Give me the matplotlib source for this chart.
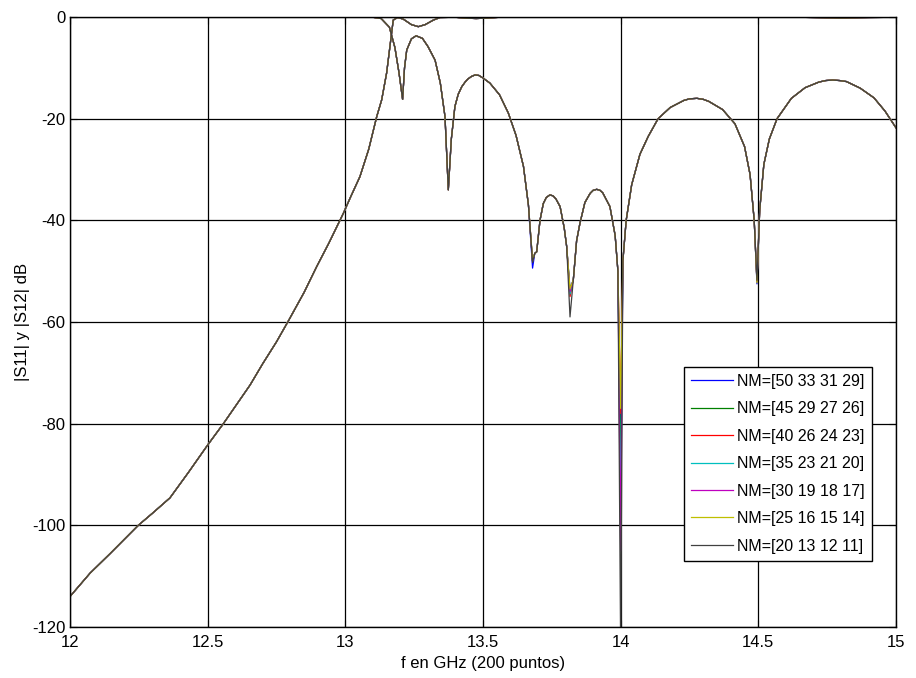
import numpy as np
import matplotlib
matplotlib.use('Agg')
import matplotlib.pyplot as plt

plt.rcParams['font.family'] = ['Liberation Sans Narrow', 'Liberation Sans', 'DejaVu Sans']
plt.rcParams['axes.unicode_minus'] = False

# frequency (GHz) and |S11| in dB (common shape of all runs)
f_s11 = [12.00, 12.50, 13.00, 13.10, 13.13, 13.16, 13.18, 13.195, 13.208, 13.215,
         13.223, 13.24, 13.257, 13.28, 13.30, 13.326, 13.345, 13.362, 13.374, 13.385,
         13.398, 13.41, 13.423, 13.435, 13.445, 13.458, 13.471, 13.485, 13.50, 13.525,
         13.56, 13.592, 13.62, 13.647, 13.665, 13.680, 13.688, 13.695, 13.707, 13.719,
         13.73, 13.743, 13.755, 13.765, 13.78, 13.795, 13.804, 13.816, 13.828, 13.84,
         13.852, 13.87, 13.889, 13.90, 13.913, 13.925, 13.935, 13.961, 13.98, 13.99,
         14.00, 14.008, 14.02, 14.04, 14.07, 14.10, 14.136, 14.18, 14.23, 14.25,
         14.277, 14.30, 14.32, 14.37, 14.415, 14.45, 14.47, 14.485, 14.495, 14.505,
         14.52, 14.54, 14.568, 14.62, 14.67, 14.72, 14.745, 14.77, 14.795, 14.82,
         14.87, 14.92, 14.96, 15.00]
s11_db = [-0.02, -0.02, -0.03, -0.05, -0.3, -2.0, -6.0, -11.0, -16.2, -10.0,
          -6.5, -4.3, -3.7, -4.2, -5.8, -8.5, -13.0, -19.6, -34.0, -24.0,
          -17.6, -15.2, -13.7, -12.8, -12.2, -11.7, -11.4, -11.5, -12.0, -13.0,
          -15.3, -18.9, -23.3, -29.4, -37.0, -48.0, -46.5, -46.2, -40.0, -36.7,
          -35.5, -35.0, -35.2, -35.8, -37.3, -41.5, -45.2, -54.0, -51.7, -44.0,
          -40.6, -36.5, -34.7, -34.1, -33.9, -34.1, -34.6, -37.3, -43.0, -50.0,
          -80.0, -48.0, -40.0, -33.0, -27.0, -23.5, -20.0, -17.8, -16.4, -16.1,
          -16.0, -16.2, -16.6, -18.2, -21.0, -25.5, -31.0, -40.0, -52.0, -38.0,
          -29.0, -24.0, -20.0, -16.0, -13.9, -12.8, -12.5, -12.4, -12.5, -12.7,
          -14.0, -15.9, -18.5, -21.8]

# frequency (GHz) and |S21| in dB
f_s21 = [12.00, 12.073, 12.145, 12.248, 12.30, 12.363, 12.43, 12.50, 12.557, 12.617,
         12.654, 12.70, 12.75, 12.793, 12.85, 12.896, 12.94, 12.993, 13.02, 13.053,
         13.085, 13.114, 13.132, 13.15, 13.174, 13.19, 13.21, 13.24, 13.265, 13.29,
         13.32, 13.344, 13.40, 13.43, 13.475, 13.52, 13.56, 14.00, 14.65, 14.70,
         14.80, 14.90, 15.00]
s21_db = [-114.0, -109.4, -105.6, -100.0, -97.6, -94.6, -89.6, -84.2, -80.0, -75.3,
          -72.4, -68.2, -63.9, -59.8, -54.2, -49.1, -44.5, -38.6, -35.3, -31.4,
          -26.0, -19.6, -16.3, -11.0, -0.6, -0.1, -0.4, -1.5, -1.9, -1.5,
          -0.6, -0.1, -0.05, -0.2, -0.3, -0.2, -0.05, -0.03, -0.05, -0.1,
          -0.2, -0.1, -0.05]

# the runs only differ near the nulls
dip_freqs = [13.680, 13.816, 14.00, 14.495]
dip_1 = [-49.4, -53.5, -85.0, -52.5]
dip_2 = [-48.0, -54.0, -92.0, -52.0]
dip_3 = [-48.0, -55.0, -78.0, -52.0]
dip_4 = [-48.0, -54.5, -99.0, -52.0]
dip_5 = [-48.0, -54.0, -105.0, -52.0]
dip_6 = [-47.8, -53.5, -77.0, -52.3]
dip_7 = [-48.3, -59.0, -125.0, -51.8]

labels = ['NM=[50 33 31 29]', 'NM=[45 29 27 26]', 'NM=[40 26 24 23]',
          'NM=[35 23 21 20]', 'NM=[30 19 18 17]', 'NM=[25 16 15 14]',
          'NM=[20 13 12 11]']
colors = ['#0000ff', '#008000', '#ff0000', '#00bfbf', '#bf00bf', '#bfbf00', '#404040']
dips = [dip_1, dip_2, dip_3, dip_4, dip_5, dip_6, dip_7]

fig = plt.figure(figsize=(9.16, 6.78), dpi=100)
ax = fig.add_axes([70 / 916, 51 / 678, 826 / 916, 610 / 678])

for lab, col, dip in zip(labels, colors, dips):
    s11 = list(s11_db)
    for fd, vd in zip(dip_freqs, dip):
        s11[f_s11.index(fd)] = vd
    ax.plot(f_s11, s11, color=col, lw=0.9, label=lab)
    ax.plot(f_s21, s21_db, color=col, lw=0.9)

ax.set_xlim(12, 15)
ax.set_ylim(-120, 0)
ax.set_xticks([12, 12.5, 13, 13.5, 14, 14.5, 15])
ax.set_xticklabels(['12', '12.5', '13', '13.5', '14', '14.5', '15'])
ax.set_yticks([-120, -100, -80, -60, -40, -20, 0])
ax.grid(True, color='black', lw=0.9, ls='-')
ax.set_axisbelow(True)
ax.tick_params(direction='in', labelsize=12, length=5, top=True, right=True)
ax.tick_params(axis='x', pad=6)
for sp in ax.spines.values():
    sp.set_color('black')
    sp.set_linewidth(1.0)

ax.set_xlabel('f en GHz (200 puntos)', fontsize=12, labelpad=4)
ax.set_ylabel('|S11| y |S12| dB', fontsize=12, labelpad=1.5)

leg = ax.legend(loc='lower right', bbox_to_anchor=(0.9713, 0.1087),
                borderaxespad=0, fontsize=11.5, fancybox=False, framealpha=1,
                edgecolor='black', handlelength=2.6, handletextpad=0.3,
                labelspacing=0.78, borderpad=0.45)
leg.get_frame().set_linewidth(1.0)

fig.savefig('out.png', dpi=100)
